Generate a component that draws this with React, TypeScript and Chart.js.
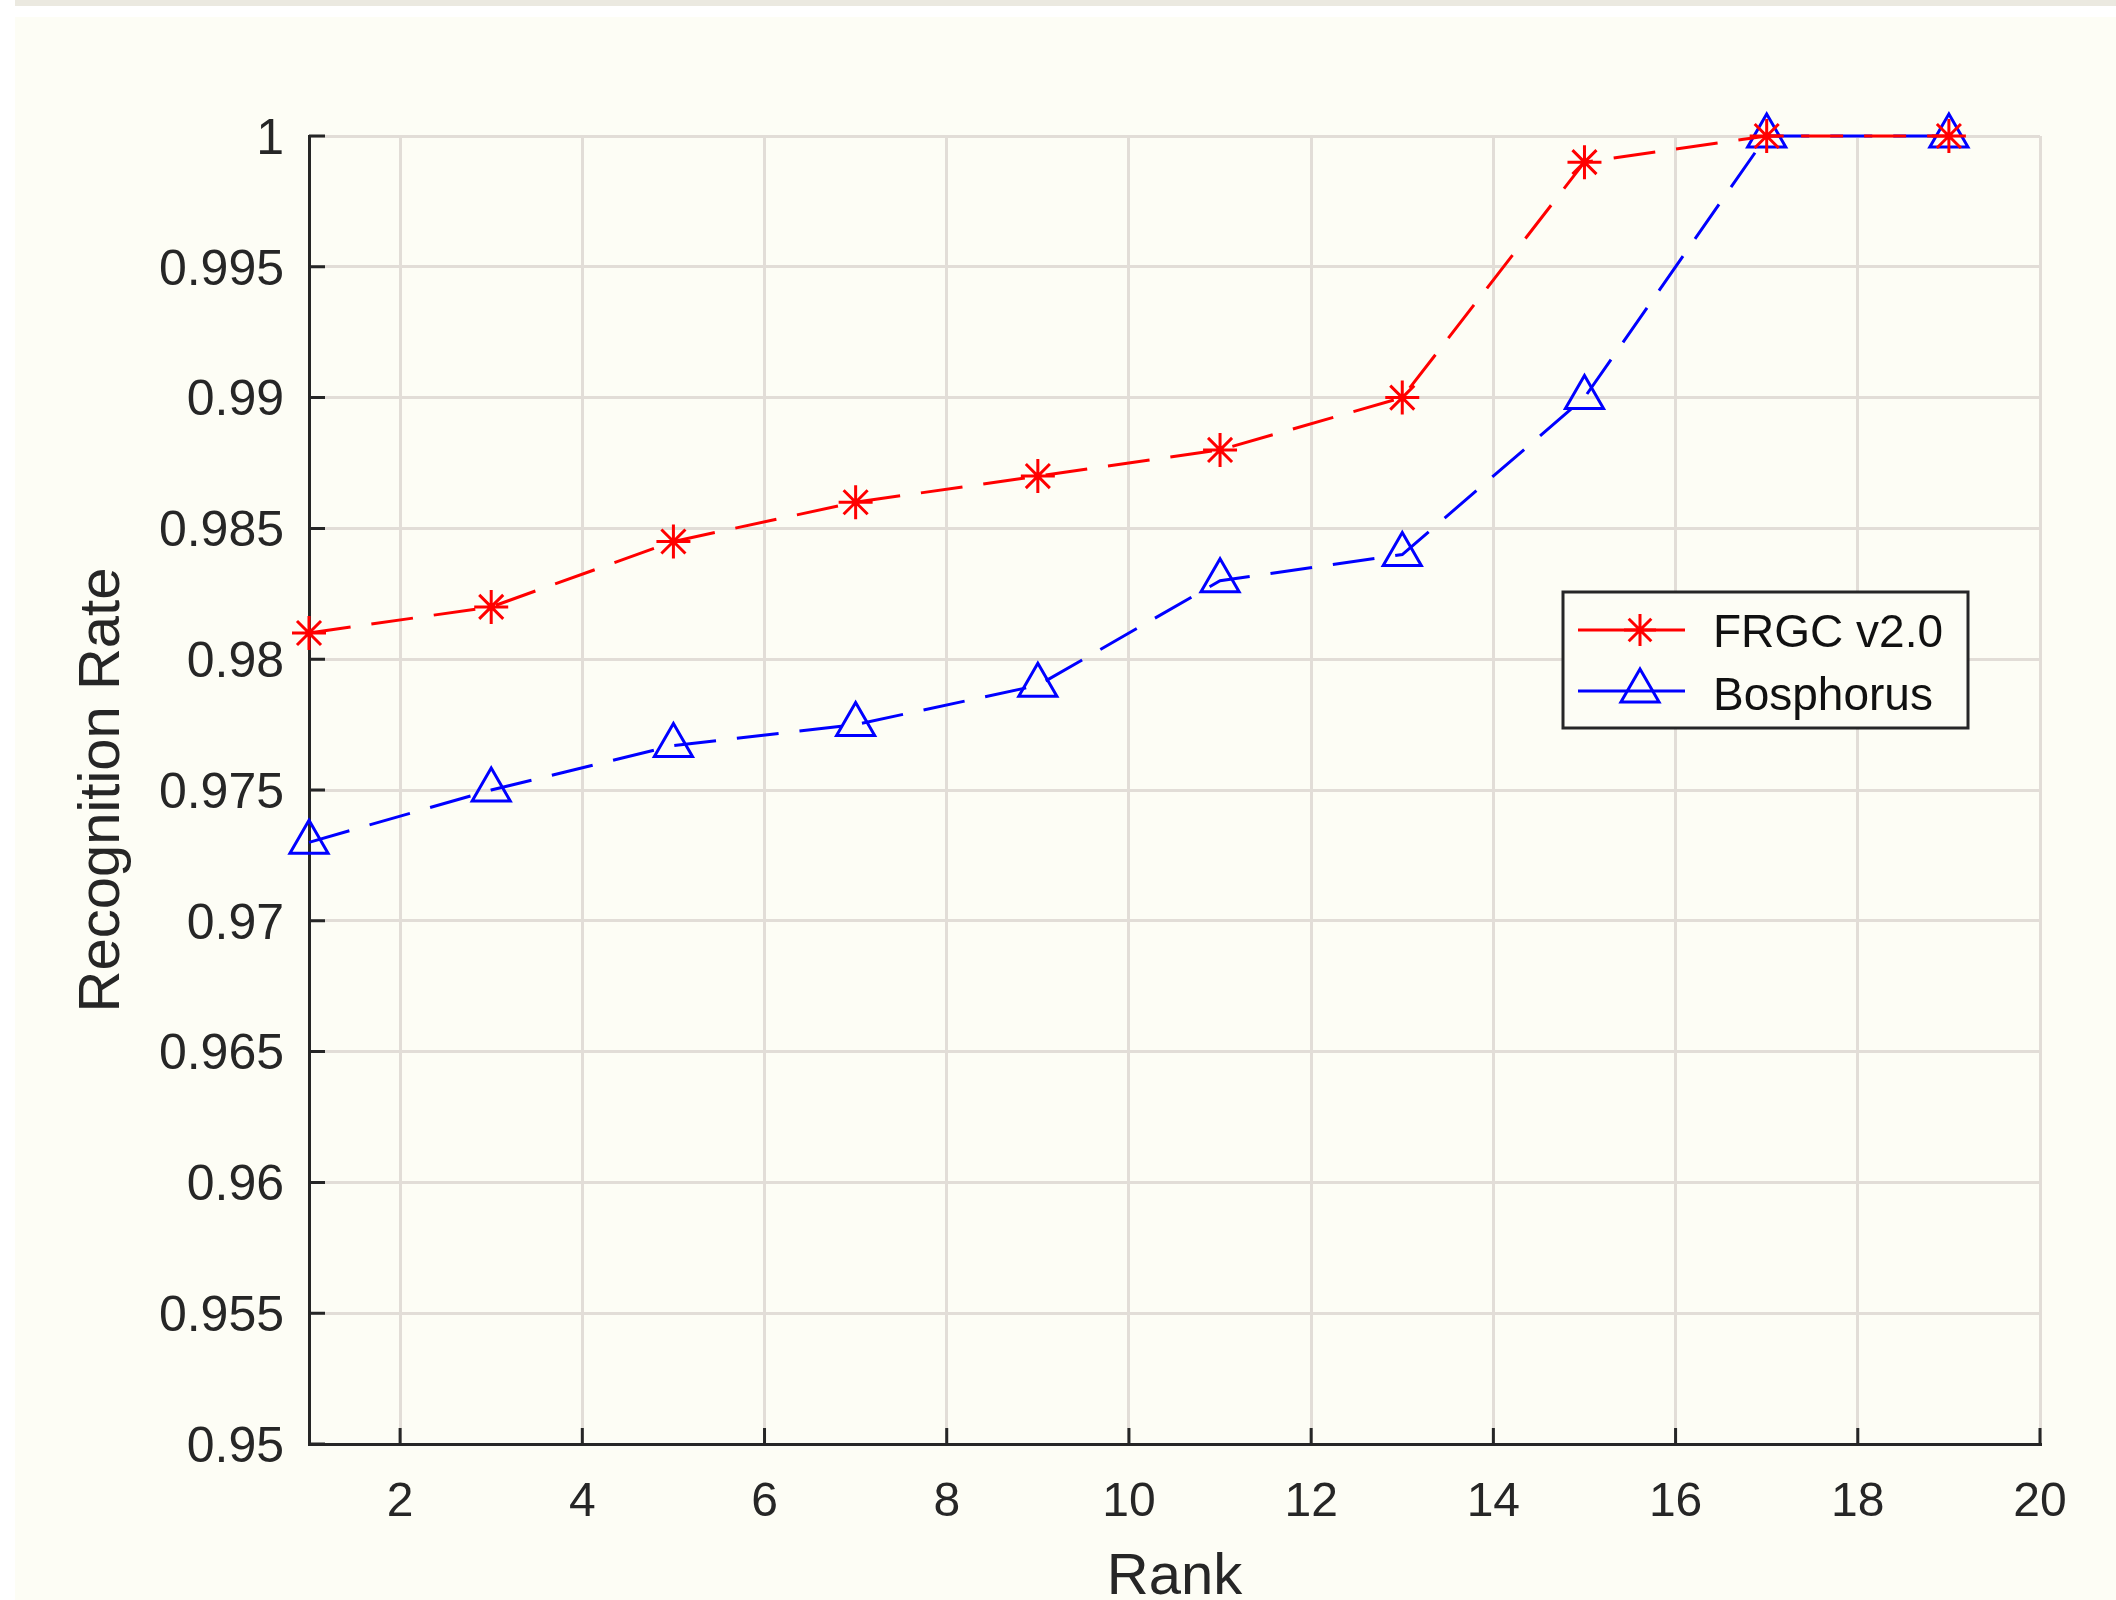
import React, { useEffect, useRef } from 'react';
import { Chart, registerables } from 'chart.js';

Chart.register(...registerables);

// ---------- data ----------
const ranks = [1, 3, 5, 7, 9, 11, 13, 15, 17, 19];
const frgcRates = [0.981, 0.982, 0.9845, 0.986, 0.987, 0.988, 0.99, 0.999, 1.0, 1.0];
const bosphorusRates = [0.973, 0.975, 0.9767, 0.9775, 0.979, 0.983, 0.984, 0.99, 1.0, 1.0];
const seriesNames = ['FRGC v2.0', 'Bosphorus'];
const xTickValues = [2, 4, 6, 8, 10, 12, 14, 16, 18, 20];
const xTickLabels = ['2', '4', '6', '8', '10', '12', '14', '16', '18', '20'];
const yTickValues = [0.95, 0.955, 0.96, 0.965, 0.97, 0.975, 0.98, 0.985, 0.99, 0.995, 1];
const yTickLabels = ['0.95', '0.955', '0.96', '0.965', '0.97', '0.975', '0.98', '0.985', '0.99', '0.995', '1'];
const xAxisTitle = 'Rank';
const yAxisTitle = 'Recognition Rate';

// ---------- style ----------
const W = 2116;
const CANVAS_H = 1640;
const FONT = '"Liberation Sans", Arial, Helvetica, sans-serif';
const RED = '#ff0000';
const BLUE = '#0000ff';
const AXIS = '#262626';
const TEXT = '#262626';
const GRID = '#e2ddd7';
const IVORY = '#fdfdf5';
const PLOT_LEFT = 309;
const PLOT_RIGHT = 2040;
const PLOT_TOP = 136;
const PLOT_BOTTOM = 1444;

function drawStar(ctx: CanvasRenderingContext2D, x: number, y: number, r: number) {
  ctx.beginPath();
  for (let k = 0; k < 4; k++) {
    const a = (k * Math.PI) / 4;
    const dx = Math.cos(a) * r;
    const dy = Math.sin(a) * r;
    ctx.moveTo(x - dx, y - dy);
    ctx.lineTo(x + dx, y + dy);
  }
  ctx.stroke();
}

function drawTriangle(ctx: CanvasRenderingContext2D, x: number, y: number, r: number) {
  ctx.beginPath();
  let rad = 0;
  ctx.moveTo(x + Math.sin(rad) * r, y - Math.cos(rad) * r);
  rad += (2 * Math.PI) / 3;
  ctx.lineTo(x + Math.sin(rad) * r, y - Math.cos(rad) * r);
  rad += (2 * Math.PI) / 3;
  ctx.lineTo(x + Math.sin(rad) * r, y - Math.cos(rad) * r);
  ctx.closePath();
  ctx.stroke();
}

const innerTicksPlugin = {
  id: 'innerTicks',
  beforeDatasetsDraw(chart: any) {
    const { ctx, chartArea, scales } = chart;
    ctx.save();
    ctx.strokeStyle = AXIS;
    ctx.lineWidth = 3;
    ctx.beginPath();
    for (const t of scales.y.ticks) {
      const y = scales.y.getPixelForValue(t.value);
      ctx.moveTo(chartArea.left, y);
      ctx.lineTo(chartArea.left + 16, y);
    }
    for (const t of scales.x.ticks) {
      const x = scales.x.getPixelForValue(t.value);
      ctx.moveTo(x, chartArea.bottom);
      ctx.lineTo(x, chartArea.bottom - 16);
    }
    ctx.stroke();
    ctx.restore();
  },
};

const boxLegendPlugin = {
  id: 'boxLegend',
  afterDraw(chart: any) {
    const { ctx, chartArea } = chart;
    const left = chartArea.right - 477;
    const top = chartArea.top + 456;
    const w = 405;
    const h = 136;
    ctx.save();
    ctx.fillStyle = IVORY;
    ctx.fillRect(left, top, w, h);
    ctx.strokeStyle = AXIS;
    ctx.lineWidth = 3;
    ctx.strokeRect(left, top, w, h);

    const rows = [
      { name: seriesNames[0], color: RED, y: top + 38, marker: 'star', base: top + 55 },
      { name: seriesNames[1], color: BLUE, y: top + 99, marker: 'tri', base: top + 118 },
    ];
    for (const r of rows) {
      ctx.strokeStyle = r.color;
      ctx.lineWidth = 3;
      ctx.setLineDash([]);
      ctx.beginPath();
      ctx.moveTo(left + 15, r.y);
      ctx.lineTo(left + 122, r.y);
      ctx.stroke();
      if (r.marker === 'star') drawStar(ctx, left + 77, r.y, 16);
      else drawTriangle(ctx, left + 77, r.y, 22);
      ctx.fillStyle = '#111111';
      ctx.font = `46px ${FONT}`;
      ctx.textAlign = 'left';
      ctx.textBaseline = 'alphabetic';
      ctx.fillText(r.name, left + 150, r.base);
    }
    ctx.restore();
  },
};

export default function App() {
  const canvasRef = useRef<HTMLCanvasElement | null>(null);

  useEffect(() => {
    const canvas = canvasRef.current;
    if (!canvas) return;
    const chart = new Chart(canvas, {
      type: 'line',
      data: {
        datasets: [
          {
            label: seriesNames[0],
            data: ranks.map((x, i) => ({ x, y: frgcRates[i] })),
            borderColor: RED,
            borderWidth: 3,
            borderDash: [42, 21],
            pointStyle: 'star',
            pointRadius: 17,
            pointBorderColor: RED,
            pointBackgroundColor: RED,
            pointBorderWidth: 3,
            tension: 0,
            clip: false,
            fill: false,
          } as any,
          {
            label: seriesNames[1],
            data: ranks.map((x, i) => ({ x, y: bosphorusRates[i] })),
            borderColor: BLUE,
            borderWidth: 3,
            borderDash: [42, 21],
            pointStyle: 'triangle',
            pointRadius: 22,
            pointBorderColor: BLUE,
            pointBackgroundColor: 'rgba(0,0,0,0)',
            pointBorderWidth: 3,
            tension: 0,
            clip: false,
            fill: false,
          } as any,
        ],
      },
      options: {
        animation: false,
        responsive: false,
        maintainAspectRatio: false,
        devicePixelRatio: 1,
        layout: { padding: { top: PLOT_TOP, right: W - PLOT_RIGHT, left: 0, bottom: 0 } },
        plugins: {
          legend: { display: false },
          tooltip: { enabled: false },
        },
        scales: {
          x: {
            type: 'linear',
            min: 1,
            max: 20,
            afterBuildTicks: (s: any) => {
              s.ticks = xTickValues.map((v) => ({ value: v }));
            },
            afterFit: (s: any) => {
              s.height = CANVAS_H - PLOT_BOTTOM;
            },
            grid: { color: GRID, lineWidth: 3, drawTicks: false },
            border: { display: true, color: AXIS, width: 3 },
            ticks: {
              autoSkip: false,
              maxRotation: 0,
              padding: 30,
              color: TEXT,
              font: { family: FONT, size: 48 },
              callback: (_v: any, i: number) => xTickLabels[i],
            },
            title: {
              display: true,
              text: xAxisTitle,
              color: TEXT,
              font: { family: FONT, size: 58, lineHeight: 1.2 },
              padding: { top: 0, bottom: 27 },
            },
          },
          y: {
            type: 'linear',
            min: 0.95,
            max: 1,
            afterBuildTicks: (s: any) => {
              s.ticks = yTickValues.map((v) => ({ value: v }));
            },
            afterFit: (s: any) => {
              s.width = PLOT_LEFT;
            },
            grid: { color: GRID, lineWidth: 3, drawTicks: false },
            border: { display: true, color: AXIS, width: 3 },
            ticks: {
              autoSkip: false,
              padding: 25,
              labelOffset: 4,
              color: TEXT,
              font: { family: FONT, size: 50 },
              callback: (_v: any, i: number) => yTickLabels[i],
            },
            title: {
              display: true,
              text: yAxisTitle,
              color: TEXT,
              font: { family: FONT, size: 58, lineHeight: 1.2 },
              padding: { top: 68, bottom: 0 },
            },
          },
        },
      } as any,
      plugins: [innerTicksPlugin, boxLegendPlugin],
    });
    return () => chart.destroy();
  }, []);

  return (
    <div
      style={{
        position: 'absolute',
        left: 0,
        top: 0,
        width: W,
        height: 1600,
        overflow: 'hidden',
        background: '#ffffff',
      }}
    >
      <div style={{ position: 'absolute', left: 15, top: 0, width: W - 15, height: 6, background: '#ebe9e0' }} />
      <div style={{ position: 'absolute', left: 15, top: 17, width: W - 15, height: 1600 - 17, background: IVORY }} />
      <canvas
        ref={canvasRef}
        width={W}
        height={CANVAS_H}
        style={{ position: 'absolute', left: 0, top: 0, width: W, height: CANVAS_H }}
      />
    </div>
  );
}
